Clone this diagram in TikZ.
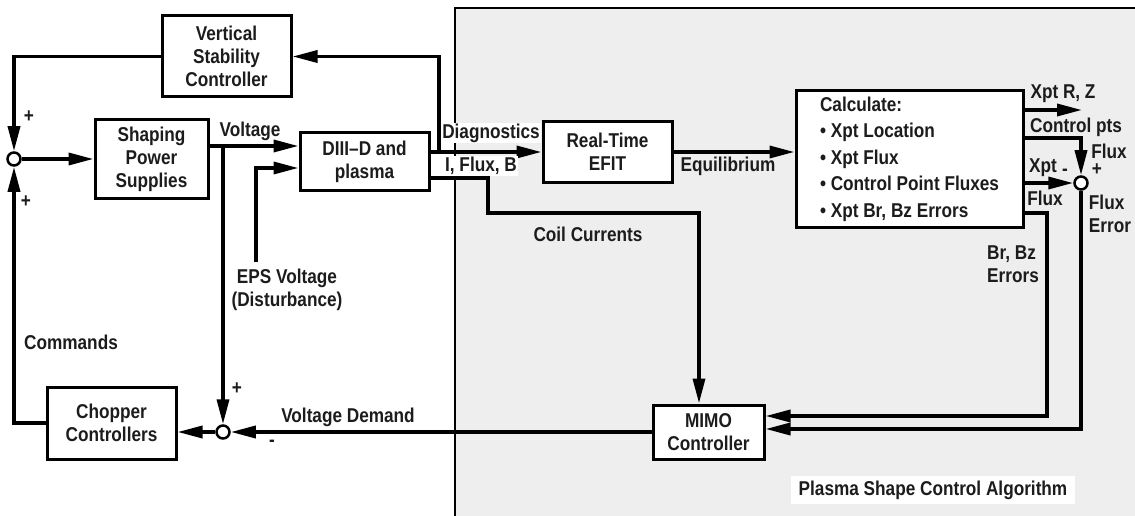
\documentclass[tikz,border=0pt]{standalone}
\usepackage{fontspec}
\setmainfont{Liberation Sans}[FakeStretch=0.86]
\usepackage{xcolor}
\definecolor{panelGray}{HTML}{EEEEEE}
\definecolor{inkDark}{HTML}{1C1C1C}
\usetikzlibrary{arrows.meta}
\tikzset{
  blockbox/.style={draw, line width=3pt, fill=white, align=center, inner sep=2pt, text=inkDark},
  sumjoint/.style={circle, draw, line width=2.5pt, fill=white, minimum size=13pt, inner sep=0pt},
  flow/.style={line width=3.5pt, -{Triangle[length=25pt,width=12pt]}},
  wire/.style={line width=3.5pt},
  tag/.style={inner sep=1pt, align=center, text=inkDark},
  signtag/.style={inner sep=0pt, text=inkDark},
  whitetag/.style={tag, fill=white},
}

\begin{document}
\begin{tikzpicture}[x=1pt, y=-1pt, font=\fontsize{20}{23}\selectfont\bfseries]
  \useasboundingbox (0,0) rectangle (1135,516);
  \filldraw[fill=panelGray, draw=black, line width=2pt] (455,8) rectangle (1145,526);

  % blocks
  \node[blockbox, minimum width=129pt, minimum height=81pt] (vsc) at (226.5,56.5) {Vertical\\Stability\\Controller};
  \node[blockbox, minimum width=113pt, minimum height=78pt] (sps) at (151.5,159) {Shaping\\Power\\Supplies};
  \node[blockbox, minimum width=129pt, minimum height=57pt] (plasma) at (364.5,161.5) {DIII--D and\\plasma};
  \node[blockbox, minimum width=129pt, minimum height=60pt] (efit) at (607.5,152) {Real-Time\\EFIT};
  \node[blockbox, minimum width=227pt, minimum height=136pt, align=left,
        font=\fontsize{20}{26.5}\selectfont\bfseries] (calc) at (909.5,159)
        {Calculate:\\\textbullet\ Xpt Location\\\textbullet\ Xpt Flux\\\textbullet\ Control Point Fluxes\\\textbullet\ Xpt Br, Bz Errors};
  \node[blockbox, minimum width=111pt, minimum height=54pt] (mimo) at (708.5,432) {MIMO\\Controller};
  \node[blockbox, minimum width=129pt, minimum height=72pt] (chopper) at (111.5,423) {Chopper\\Controllers};

  % summing points
  \node[sumjoint] (sumL) at (14,159) {};
  \node[sumjoint] (sumB) at (223,432) {};
  \node[sumjoint] (sumR) at (1081,183) {};

  % branch points
  \coordinate (vtap) at (223,146);
  \coordinate (eps) at (256,262);
  \coordinate (dtap) at (439,152);
  \coordinate (ctap) at (488,178);
  \coordinate (cdrop) at (699,213);
  \coordinate (xrz) at (1082,110);
  \coordinate (cpt) at (1081,138);
  \coordinate (brz) at (1047,213);

  % left loop
  \draw[flow] (vsc.west) -| (sumL.north);
  \draw[flow] (sumL.east) -- (sps.west);
  \draw[flow] (chopper.west) -| (sumL.south);
  \draw[wire] (sps.east |- vtap) -- (vtap);
  \draw[flow] (vtap) -- (plasma.west |- vtap);
  \draw[flow] (vtap) -- (sumB.north);
  \draw[flow] (eps) |- ([yshift=-6.5pt]plasma.west);

  % plasma outputs
  \draw[flow] (plasma.east |- dtap) -- (efit.west);
  \draw[flow] (dtap) |- (vsc.east);
  \draw[flow] ([yshift=-16.5pt]plasma.east) -- (ctap) |- (cdrop) -- (cdrop |- mimo.north);
  \draw[flow] (efit.east) -- (calc.west |- efit.east);

  % calculate outputs
  \draw[flow] (calc.east |- xrz) -- (xrz);
  \draw[flow] (calc.east |- cpt) -- (cpt) -- (sumR.north);
  \draw[flow] (calc.east |- sumR) -- (sumR.west);
  \draw[flow] (calc.east |- brz) -- (brz) |- ([yshift=16pt]mimo.east);
  \draw[flow] (sumR.south) |- ([yshift=3pt]mimo.east);

  % bottom path
  \draw[flow] (mimo.west) -- (sumB.east);
  \draw[flow] (sumB.west) -- (chopper.east |- sumB);

  % labels
  \node[tag] (lVolt) at (250,131) {Voltage};
  \node[tag] (lEps) at (287,290) {EPS Voltage\\(Disturbance)};
  \node[tag] (lCmd) at (71,342) {Commands};
  \node[signtag] (pL1) at (29,117) {+};
  \node[signtag] (pL2) at (26,202) {+};
  \node[signtag] (pB) at (237,389) {+};
  \node[signtag] (mB) at (272,443) {-};
  \node[tag] (lDemand) at (348,417) {Voltage Demand};
  \node[whitetag] (lDiag) at (491,133) {Diagnostics};
  \node[whitetag] (lIfb) at (481,166) {I, Flux, B};
  \node[tag] (lEq) at (728,166) {Equilibrium};
  \node[tag] (lCoil) at (588,234) {Coil Currents};
  \node[tag] (lXrz) at (1063,94) {Xpt R, Z};
  \node[tag] (lCpt) at (1076,127) {Control pts};
  \node[tag] (lFlux) at (1109,151) {Flux};
  \node[signtag] (pR) at (1097,170) {+};
  \node[signtag] (mR) at (1065,172) {-};
  \node[tag] (lXpt) at (1043,168) {Xpt};
  \node[tag] (lXflux) at (1045,198) {Flux};
  \node[tag, align=left] (lFerr) at (1110,214) {Flux\\Error};
  \node[tag, align=left] (lBrz) at (1013,264) {Br, Bz\\Errors};
  \node[whitetag, inner xsep=8pt, inner ysep=5pt] (lAlgo) at (933,490) {Plasma Shape Control Algorithm};
\end{tikzpicture}
\end{document}
